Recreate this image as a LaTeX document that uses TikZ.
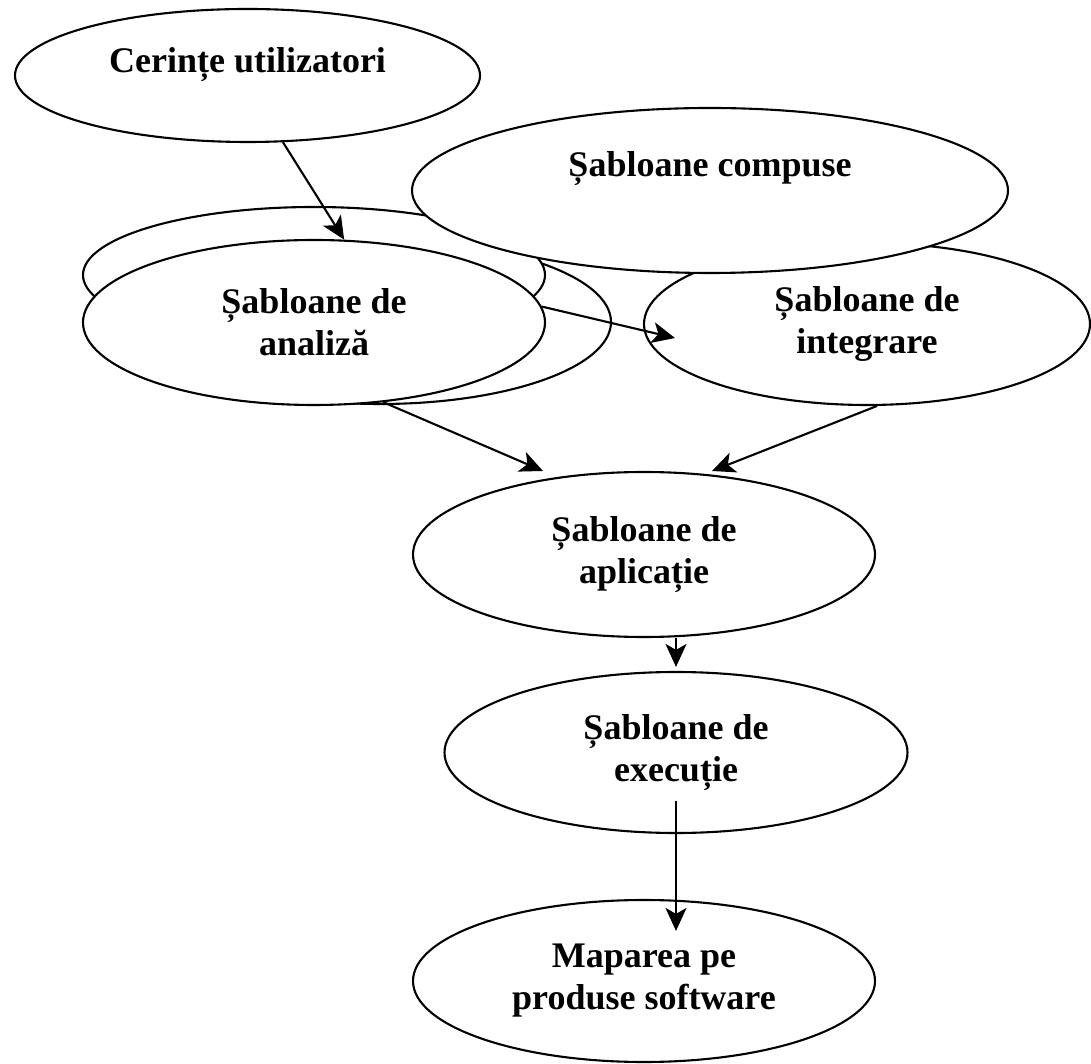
\documentclass[tikz,border=0pt]{standalone}
\usepackage{fontspec}
\setmainfont{Liberation Serif}
\usetikzlibrary{arrows.meta,shapes.geometric}

\begin{document}
\begin{tikzpicture}
  [
    x=1pt, y=1pt,
    oval/.style={ellipse, draw, fill=white, line width=2.1pt, inner sep=0pt,
      align=center, font=\fontsize{36}{42}\selectfont\bfseries},
    arr/.style={-{Stealth[length=23pt, width=21pt, inset=6pt]}, line width=2.1pt},
  ]

    \useasboundingbox (0,0) rectangle (1091,1063);

    % analysis stack
    \node [oval, minimum width=462, minimum height=164] (anaB) at (380,741) {};
    \node [oval, minimum width=462, minimum height=136] (anaA) at (314,788) {};
    \node [oval, minimum width=462, minimum height=165] (ana) at (314,740.5) {Șabloane de\\analiză};

    % top row
    \node [oval, minimum width=446, minimum height=162] (integ) at (867,739) {Șabloane de\\integrare};
    \node [oval, minimum width=596, minimum height=165, text height=24pt, text depth=51pt] (comp) at (710,872.5) {Șabloane compuse};
    \node [oval, minimum width=465, minimum height=133, text height=24pt, text depth=29pt] (cer) at (247.5,987.5) {Cerințe utilizatori};

    % lower chain
    \node [oval, minimum width=462, minimum height=165] (apl) at (644,508.5) {Șabloane de\\aplicație};
    \node [oval, minimum width=463, minimum height=161] (exe) at (676,310.5) {Șabloane de\\execuție};
    \node [oval, minimum width=462, minimum height=162] (map) at (644,82) {Maparea pe\\produse software};

    % arrows
    \draw [arr] (cer.-62) -- (ana.70);
    \draw [arr] (ana.4) -- ([xshift=-192pt, yshift=-14pt]integ.center);
    \draw [arr] (ana.-49) -- ([xshift=-101pt, yshift=83.5pt]apl.center);
    \draw [arr] (integ.-83) -- ([xshift=68pt, yshift=83.5pt]apl.center);
    \draw [arr, shorten >=4pt] (exe.north |- apl.south) -- (exe.north);
    \draw [arr, shorten >=-32pt] ([yshift=-48pt]exe.center) -- (exe.center |- map.north);
  \end{tikzpicture}
\end{document}
